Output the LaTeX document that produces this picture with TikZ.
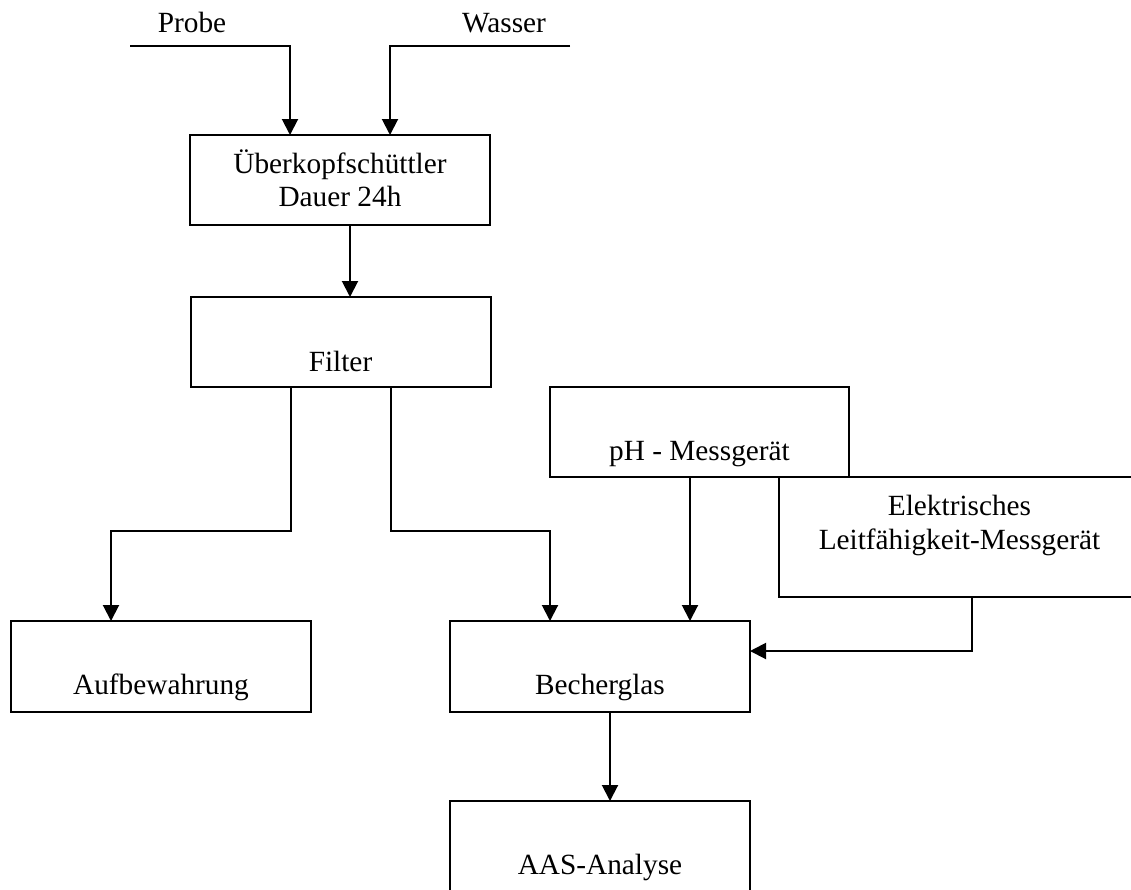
\documentclass[tikz,border=0pt]{standalone}
\usepackage{fontspec}
\setmainfont{Liberation Serif}
\usetikzlibrary{arrows.meta}
\newcommand\lowtext[2]{\raisebox{-#1pt}[0pt][0pt]{#2}}
\newcommand\twolines[3]{\raisebox{-#1pt}[0pt][0pt]{\begin{tabular}[b]{@{}c@{}}#2\\#3\end{tabular}}}
\begin{document}
\begin{tikzpicture}[x=1pt,y=-1pt,
  font=\fontsize{29.3}{33.7}\selectfont,
  box/.style={draw, line width=2pt, inner sep=0pt, outer sep=0pt},
  lbl/.style={anchor=base, inner sep=0pt},
  link/.style={line width=2pt},
  arr/.style={link, -{Triangle[width=16pt,length=16pt]}}]
\path[use as bounding box] (0,0) rectangle (1131,889);

% labels of the inputs
\node[lbl] (probe) at (192,32.3) {Probe};
\node[lbl] (wasser) at (504,32.3) {Wasser};
\coordinate (pin) at (130,46);
\coordinate (win) at (570,46);

% boxes
\node[box, minimum width=300pt, minimum height=90pt] (ueber) at (340,180)
  {\twolines{26.7}{Überkopfschüttler}{Dauer 24h}};
\node[box, minimum width=300pt, minimum height=90pt] (filter) at (340.5,342)
  {\lowtext{29.7}{Filter}};
\node[box, minimum width=300pt, minimum height=91pt] (aufb) at (161,666.5)
  {\lowtext{27.5}{Aufbewahrung}};
\node[box, minimum width=300pt, minimum height=91pt] (becher) at (600,666.5)
  {\lowtext{27.8}{Becherglas}};
\node[box, minimum width=299pt, minimum height=90pt] (ph) at (699.5,432)
  {\lowtext{28.7}{pH - Messgerät}};
\node[box, minimum width=361pt, minimum height=120pt] (elek) at (959.5,537)
  {\twolines{12}{Elektrisches}{Leitfähigkeit-Messgerät}};
\node[box, minimum width=300pt, minimum height=90pt] (aas) at (600,846)
  {\lowtext{28.3}{AAS-Analyse}};

% connectors
\draw[arr] (pin) -| ([xshift=-50pt]ueber.north);
\draw[arr] (win) -| ([xshift=50pt]ueber.north);
\draw[arr] ([xshift=10pt]ueber.south) -- ([xshift=9.5pt]filter.north);
\draw[arr] ([xshift=-50pt]filter.south) -- ++(0,144) -| ([xshift=-50pt]aufb.north);
\draw[arr] ([xshift=50pt]filter.south) -- ++(0,144) -| ([xshift=-50pt]becher.north);
\draw[arr] ([xshift=-9.5pt]ph.south) -- ([xshift=-9.5pt]ph.south |- becher.north);
\draw[arr] ([xshift=12pt]elek.south) |- ([yshift=15.5pt]becher.east);
\draw[arr] ([xshift=10pt]becher.south) -- ([xshift=10pt]aas.north);
\end{tikzpicture}
\end{document}
